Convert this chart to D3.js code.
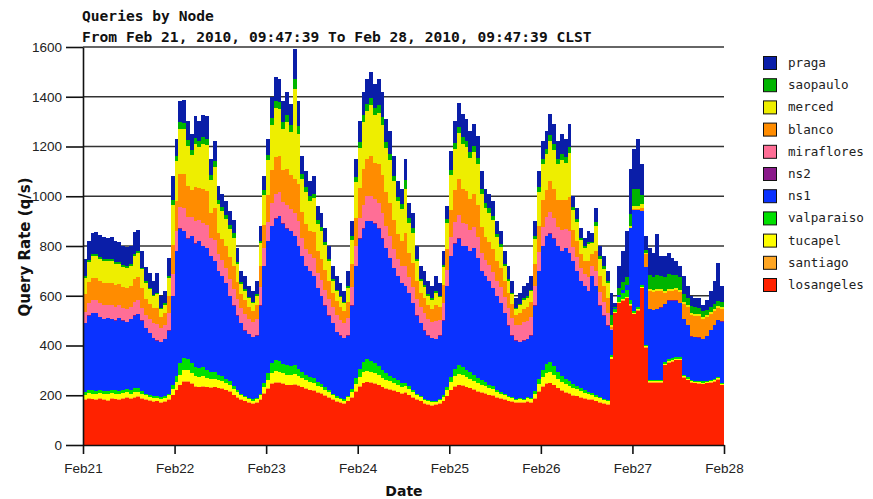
<!DOCTYPE html>
<html lang="en">
<head>
<meta charset="UTF-8">
<title>Queries by Node</title>
<script src="https://cdn.jsdelivr.net/npm/d3@7"></script>
<style>
    body { margin: 0; background: #fff; }
    svg { display: block; }
    .title { font-family: "DejaVu Sans Mono", monospace; font-weight: bold; font-size: 14.6px; fill: #111; }
    .axis-title { font-family: "DejaVu Sans", sans-serif; font-weight: bold; fill: #111; }
    .axis text { font-family: "Liberation Sans", Arial, sans-serif; font-size: 13.5px; fill: #222; }
    .axis path, .axis line { stroke: #111; stroke-width: 1.6; }
    .grid line { stroke: #333; stroke-width: 1.6; }
    .legend text { font-family: "DejaVu Sans Mono", monospace; font-size: 12.6px; fill: #222; }
</style>
</head>
<body>
<svg id="chart" width="873" height="499"></svg>
<script>
// one value per hour, starting Feb 21 09:47:39 (168 hours)
const dayLabels = ["Feb21", "Feb22", "Feb23", "Feb24", "Feb25", "Feb26", "Feb27", "Feb28"];
const yTicks = [0, 200, 400, 600, 800, 1000, 1200, 1400, 1600];

const losangeles = [180,185,183,180,185,182,178,185,183,180,185,188,184,190,192,185,180,176,172,175,170,172,180,200,
    220,240,255,255,245,235,232,235,232,230,232,228,225,220,215,200,190,180,175,168,165,170,180,205,
    225,245,250,250,245,240,240,242,238,232,225,220,218,210,205,198,190,180,172,168,165,175,190,215,
    235,248,252,250,245,240,232,225,222,218,212,205,210,200,190,180,175,165,162,158,160,165,175,195,
    220,235,240,238,232,228,222,215,210,205,200,198,190,185,180,175,172,168,170,168,172,170,185,215,
    235,245,248,240,228,218,210,205,198,195,190,185,182,180,175,170,165,160,345,530,570,580,590,560,
    525,540,630,390,250,250,250,250,320,330,335,340,340,270,260,250,248,246,245,248,250,255,262,240];
const santiago = [3,3,3,3,3,3,3,3,3,3,3,3,3,3,3,3,3,3,3,3,3,3,3,3,
    3,3,3,3,3,3,3,3,3,3,3,3,3,3,3,3,3,3,3,3,3,3,3,3,
    3,3,3,3,3,3,3,3,3,3,3,3,3,3,3,3,3,3,3,3,3,3,3,3,
    3,3,3,3,3,3,3,3,3,3,3,3,3,3,3,3,3,3,3,3,3,3,3,3,
    3,3,3,3,3,3,3,3,3,3,3,3,3,3,3,3,3,3,3,3,3,3,3,3,
    3,3,3,3,3,3,3,3,3,3,3,3,3,3,3,3,3,3,2,2,2,2,2,2,
    2,2,2,2,2,2,2,2,2,2,2,2,2,2,2,2,2,2,2,2,2,2,2,2];
const tucapel = [20,22,20,22,20,22,24,20,20,22,20,22,20,22,20,18,16,14,14,12,12,14,16,22,
    30,40,42,42,40,40,38,40,36,34,32,30,28,26,24,22,20,16,14,12,10,12,16,24,
    32,40,44,42,40,40,38,40,36,34,32,30,30,26,24,22,20,16,14,12,10,14,20,28,
    36,42,44,42,40,40,36,34,32,30,28,26,24,22,20,16,14,12,10,10,10,12,16,22,
    30,38,42,40,38,36,34,32,30,28,26,24,20,18,16,14,12,10,10,10,12,12,18,28,
    36,40,42,40,36,34,32,30,28,26,24,22,20,18,16,14,12,12,6,3,3,3,3,5,
    5,5,5,4,4,4,4,4,5,5,5,5,5,4,4,4,4,4,4,4,4,4,4,4];
const valparaiso = [12,12,14,12,12,10,12,12,14,12,12,12,14,15,14,10,8,8,6,6,6,6,8,15,
    25,45,50,45,40,35,35,36,32,28,25,22,20,18,15,12,10,8,6,5,5,5,8,16,
    28,40,45,42,38,38,35,35,28,24,22,20,18,16,14,12,10,8,6,5,5,6,12,22,
    32,40,45,44,40,36,30,26,22,20,18,16,14,12,10,8,6,5,5,4,4,5,6,12,
    22,30,36,34,30,26,24,20,18,16,14,12,10,8,7,6,5,5,4,5,5,5,10,18,
    28,38,40,34,28,24,20,18,16,14,12,10,10,8,8,6,6,5,8,12,20,25,30,15,
    8,8,5,6,6,6,6,6,8,8,8,8,8,6,6,5,5,5,5,5,5,5,5,5];
const ns1 = [275,298,310,313,295,288,293,285,280,293,280,270,284,290,296,284,263,249,235,224,224,230,253,360,
    502,542,510,485,512,497,512,486,487,465,448,417,404,383,343,323,297,283,262,257,252,250,353,472,
    532,552,568,583,564,549,544,520,495,467,438,427,411,375,354,325,297,283,260,252,247,242,335,452,
    524,537,556,561,562,551,529,502,471,439,419,400,389,373,347,313,292,275,260,255,248,255,300,408,
    485,504,509,485,497,487,507,480,439,428,417,393,377,356,324,282,248,234,228,234,233,250,344,436,
    498,514,517,513,505,501,525,514,495,462,431,420,405,471,438,367,334,300,100,3,10,15,20,290,
    405,390,300,314,285,280,285,290,230,235,230,225,215,225,210,175,175,175,170,180,200,215,230,245];
const ns2 = [1,1,1,1,1,1,1,1,1,1,1,1,1,1,1,1,1,1,1,1,1,1,1,1,
    1,1,1,1,1,1,1,1,1,1,1,1,1,1,1,1,1,1,1,1,1,1,1,1,
    1,1,1,1,1,1,1,1,1,1,1,1,1,1,1,1,1,1,1,1,1,1,1,1,
    1,1,1,1,1,1,1,1,1,1,1,1,1,1,1,1,1,1,1,1,1,1,1,1,
    1,1,1,1,1,1,1,1,1,1,1,1,1,1,1,1,1,1,1,1,1,1,1,1,
    1,1,1,1,1,1,1,1,1,1,1,1,1,1,1,1,1,1,1,0,0,0,0,0,
    0,0,0,1,1,1,1,1,1,1,1,1,1,1,1,1,1,1,1,1,1,1,1,1];
const miraflores = [45,50,52,50,55,55,52,55,55,50,50,52,50,55,55,50,50,55,60,65,55,58,70,85,
    80,85,90,85,75,90,85,92,92,70,85,65,62,62,65,68,65,60,65,60,58,65,75,70,
    75,90,98,95,85,95,88,90,100,70,68,65,70,62,62,62,65,62,65,62,58,70,75,78,
    82,95,98,102,96,102,100,90,88,78,68,68,80,65,65,65,62,68,65,62,72,62,70,62,
    75,85,95,92,88,84,87,85,70,63,63,63,60,65,65,70,70,60,68,72,72,75,78,75,
    75,75,84,80,75,82,78,90,55,55,50,48,55,40,60,55,55,50,3,0,0,0,0,0,
    0,0,0,0,0,0,0,0,0,0,0,0,0,0,0,0,0,0,0,0,0,0,0,0];
const blanco = [70,85,90,92,90,92,90,92,88,86,85,84,84,92,95,80,65,62,58,65,45,48,70,120,
    120,135,138,125,110,135,128,138,140,100,125,88,85,85,88,90,70,55,55,50,46,55,85,95,
    108,135,150,145,128,145,135,140,150,105,100,95,105,86,86,80,72,58,56,52,48,65,90,112,
    122,145,150,158,146,158,155,135,133,117,100,100,130,95,95,72,58,60,55,52,64,52,72,85,
    110,128,142,138,133,125,130,128,105,92,92,92,80,75,65,60,55,42,48,55,56,60,90,105,
    110,110,125,120,110,122,115,135,68,65,55,50,62,45,80,62,62,58,8,0,0,0,0,0,
    5,5,10,50,70,72,70,65,45,40,40,42,45,60,70,85,85,85,80,75,65,55,45,50];
const merced = [65,80,85,86,88,86,85,85,84,82,80,80,80,92,95,75,65,58,48,55,30,32,70,160,
    160,180,180,160,140,175,165,180,182,135,165,115,112,112,115,115,70,42,40,33,31,40,90,120,
    140,180,195,188,168,188,175,360,200,135,128,120,135,110,110,100,80,50,42,38,32,55,100,145,
    160,188,195,205,192,205,202,178,174,155,130,130,180,122,122,80,50,48,40,38,50,38,72,105,
    140,165,185,180,174,163,170,166,135,118,118,118,95,85,60,50,40,25,30,36,38,42,100,135,
    142,142,163,156,142,160,150,178,80,75,60,52,70,45,100,70,70,62,8,0,0,0,0,8,
    10,10,15,5,10,10,10,10,8,8,8,8,8,8,8,8,8,8,8,8,8,8,8,8];
const saopaulo = [8,8,8,8,8,8,8,8,8,8,8,8,8,9,9,7,8,7,6,7,5,5,8,20,
    22,27,27,25,20,25,25,27,27,20,25,17,16,16,17,17,10,6,6,5,5,6,10,18,
    20,27,28,28,25,28,26,40,30,20,19,18,20,16,16,14,10,7,6,6,5,8,13,22,
    24,28,28,30,28,30,30,26,25,22,19,19,35,18,18,10,7,7,6,6,7,6,9,15,
    21,25,27,27,25,24,25,25,20,17,17,17,13,11,8,7,6,4,5,5,6,6,13,20,
    21,21,24,23,21,24,22,26,12,11,8,7,10,7,14,10,10,8,40,5,25,30,30,50,
    70,70,40,10,55,50,55,50,55,60,55,52,50,30,30,28,25,25,22,20,20,20,20,20];
const praga = [67,77,85,90,89,90,85,90,85,79,77,76,73,87,86,68,57,58,58,78,50,52,72,95,
    68,83,90,75,65,85,77,88,89,65,80,55,55,55,55,55,55,47,54,47,45,54,60,57,
    67,88,99,94,84,94,86,120,100,70,65,62,70,56,56,54,53,53,56,52,47,62,62,73,
    82,94,99,105,98,105,103,91,90,78,63,63,85,60,60,53,53,57,54,52,62,52,57,53,
    74,87,96,93,90,84,88,86,70,60,60,60,52,54,52,53,49,39,44,52,53,57,59,65,
    72,72,84,81,72,82,75,91,45,44,37,33,43,33,56,43,43,42,90,15,90,125,185,180,
    160,200,123,59,107,96,167,82,86,81,66,57,46,75,50,43,38,40,24,38,66,96,154,66];

// stacking order, bottom to top
const nodes = ["losangeles", "santiago", "tucapel", "valparaiso", "ns1", "ns2",
               "miraflores", "blanco", "merced", "saopaulo", "praga"];
const nodeValues = { losangeles, santiago, tucapel, valparaiso, ns1, ns2,
                     miraflores, blanco, merced, saopaulo, praga };
const nodeColors = ["#ff2200", "#ffa623", "#ffff00", "#00e000", "#0a32ff", "#8a1a8a",
                    "#ff6e96", "#ff8c00", "#eeee00", "#00b400", "#0a1ea8"];

const svg = d3.select("#chart");
const margin = { left: 83, right: 724, top: 47, bottom: 445 };

const x = d3.scaleLinear().domain([0, 168]).range([margin.left, margin.right]);
const y = d3.scaleLinear().domain([0, 1600]).range([margin.bottom, margin.top]);
const color = d3.scaleOrdinal().domain(nodes).range(nodeColors);

const rows = losangeles.map((_, i) => {
    const r = { hour: i };
    nodes.forEach(k => r[k] = nodeValues[k][i]);
    return r;
});
// close the last step at the right edge
rows.push(Object.assign({}, rows[rows.length - 1], { hour: 168 }));

const series = d3.stack().keys(nodes)(rows);

// gridlines behind the areas
svg.append("g").attr("class", "grid")
    .selectAll("line")
    .data(yTicks.filter(d => d > 0))
    .enter().append("line")
    .attr("x1", margin.left).attr("x2", margin.right)
    .attr("y1", d => y(d)).attr("y2", d => y(d));

const area = d3.area()
    .curve(d3.curveStepAfter)
    .x(d => x(d.data.hour))
    .y0(d => y(d[0]))
    .y1(d => y(d[1]));

svg.append("g")
    .selectAll("path")
    .data(series)
    .enter().append("path")
    .attr("d", area)
    .attr("fill", d => color(d.key))
    .attr("shape-rendering", "crispEdges");

// axes
svg.append("g").attr("class", "axis")
    .attr("transform", `translate(${margin.left},0)`)
    .call(d3.axisLeft(y).tickValues(yTicks).tickFormat(d3.format("d"))
        .tickSize(17).tickSizeOuter(0).tickPadding(4));

svg.append("g").attr("class", "axis")
    .attr("transform", `translate(0,${margin.bottom})`)
    .call(d3.axisBottom(x).tickValues(dayLabels.map((_, i) => i * 24))
        .tickFormat((d, i) => dayLabels[i]).tickSize(9).tickSizeOuter(0).tickPadding(9));

// titles
svg.append("text").attr("class", "title").attr("x", 82).attr("y", 21).text("Queries by Node");
svg.append("text").attr("class", "title").attr("x", 82).attr("y", 42)
    .text("From Feb 21, 2010, 09:47:39 To Feb 28, 2010, 09:47:39 CLST");

svg.append("text").attr("class", "axis-title")
    .attr("transform", "translate(30,247) rotate(-90)")
    .attr("text-anchor", "middle")
    .style("font-size", "15px")
    .text("Query Rate (q/s)");

svg.append("text").attr("class", "axis-title")
    .attr("x", 404).attr("y", 496)
    .attr("text-anchor", "middle")
    .style("font-size", "14px")
    .text("Date");

// legend, top to bottom
const legend = svg.append("g").attr("class", "legend")
    .selectAll("g")
    .data(nodes.slice().reverse())
    .enter().append("g")
    .attr("transform", (d, i) => `translate(763,${56 + i * 22.2})`);

legend.append("rect")
    .attr("x", 0.5).attr("y", 0.5)
    .attr("width", 13).attr("height", 13)
    .attr("fill", d => color(d))
    .attr("stroke", "#111");

legend.append("text")
    .attr("x", 25).attr("y", 11)
    .text(d => d);
</script>
</body>
</html>
